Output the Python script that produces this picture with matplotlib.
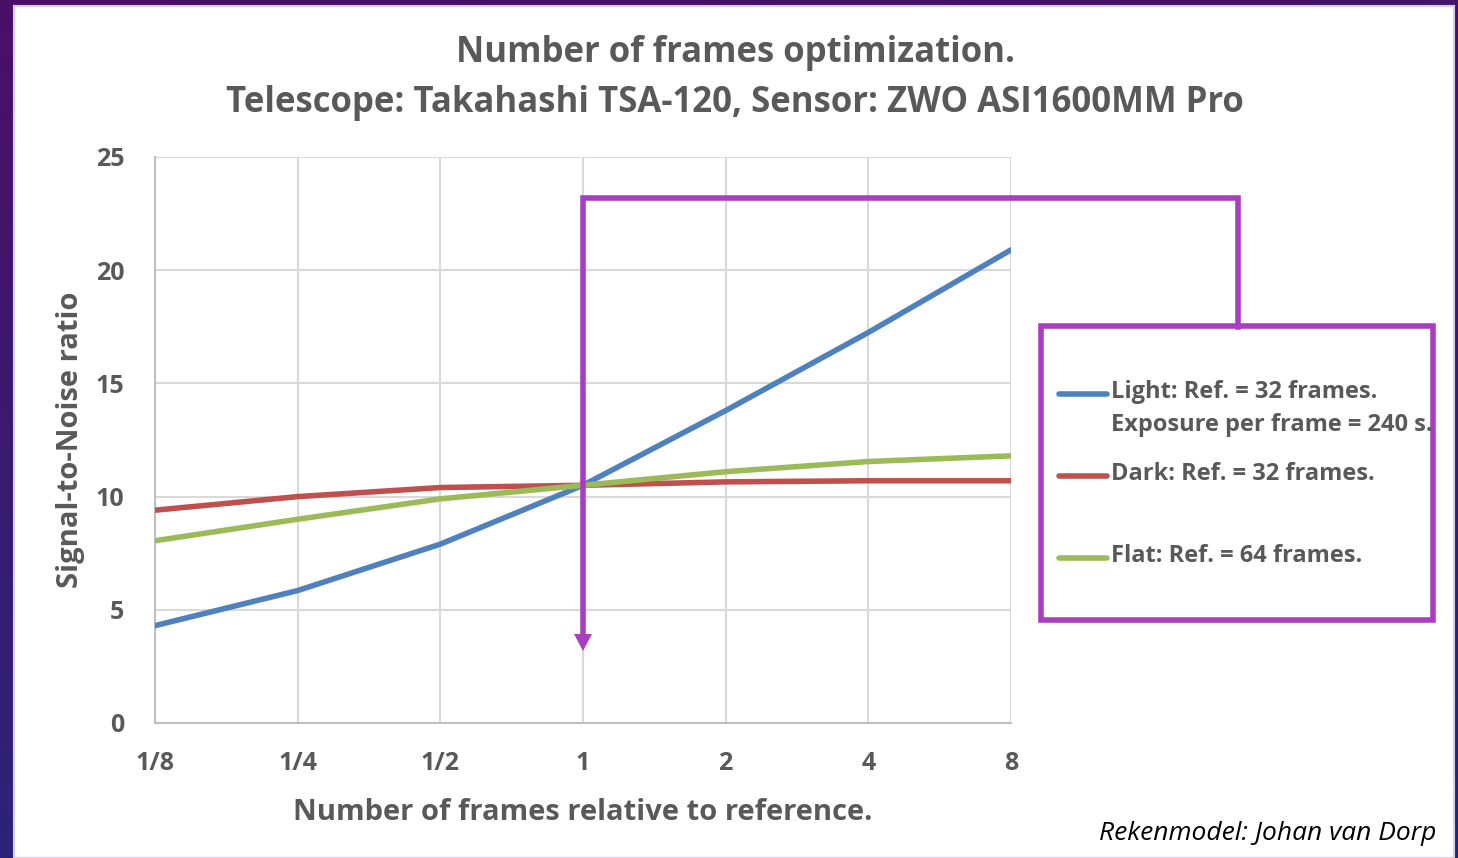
import numpy as np
import matplotlib.pyplot as plt
from matplotlib.patches import Rectangle
from matplotlib.lines import Line2D

plt.rcParams['font.family'] = ['Open Sans', 'DejaVu Sans']

# 数据
x_labels = ["1/8", "1/4", "1/2", "1", "2", "4", "8"]
light = [4.3, 5.85, 7.9, 10.5, 13.8, 17.25, 20.9]
dark = [9.4, 10.0, 10.4, 10.5, 10.65, 10.7, 10.7]
flat = [8.05, 9.0, 9.9, 10.5, 11.1, 11.55, 11.8]
ref_index = 3

c_light = "#4F81BD"
c_dark = "#C0504D"
c_flat = "#9BBB59"
c_purple = "#A93DC0"
c_text = "#595959"

W, H = 1458, 858
fig = plt.figure(figsize=(W / 100, H / 100), dpi=100)

# 背景渐变（紫到蓝）
bg = fig.add_axes([0, 0, 1, 1], zorder=-10)
yy = np.linspace(0, 1, 200)[:, None]
xx = np.linspace(0, 1, 200)[None, :]
top = np.array([0.29, 0.06, 0.40])
bot = np.array([0.14, 0.16, 0.48])
t = (yy * 0.8 + xx * 0.2)
img = top[None, None, :] * (1 - t[..., None]) + bot[None, None, :] * t[..., None]
bg.imshow(img, aspect="auto", extent=[0, 1, 0, 1], origin="upper")
bg.add_patch(Rectangle((14 / W, 0), (1454 - 14) / W, 1 - 6 / H,
                       facecolor="white", edgecolor="#D9D0E6", linewidth=1.5))
bg.set_xlim(0, 1)
bg.set_ylim(0, 1)
bg.axis("off")

ax = fig.add_axes([155 / W, 1 - 723 / H, (1011 - 155) / W, (723 - 157) / H])
ax.set_facecolor("none")
x = np.arange(len(x_labels))

ax.plot(x, light, color=c_light, linewidth=4, solid_capstyle="round", zorder=3)
ax.plot(x, dark, color=c_dark, linewidth=4, solid_capstyle="round", zorder=3)
ax.plot(x, flat, color=c_flat, linewidth=4, solid_capstyle="round", zorder=3)

ax.set_xlim(0, len(x_labels) - 1)
ax.set_ylim(0, 25)
ax.set_xticks(x)
ax.set_xticklabels(x_labels)
ax.set_yticks([0, 5, 10, 15, 20, 25])
ax.grid(True, color="#D9D9D9", linewidth=1.5)
ax.set_axisbelow(True)
for s in ["top", "right"]:
    ax.spines[s].set_visible(False)
ax.spines["left"].set_color("#BFBFBF")
ax.spines["bottom"].set_color("#BFBFBF")
ax.spines["left"].set_linewidth(1.5)
ax.spines["bottom"].set_linewidth(1.5)
ax.tick_params(axis="both", length=0, labelsize=18, labelcolor=c_text)
ax.tick_params(axis="x", pad=20)
ax.tick_params(axis="y", pad=22)
for lab in ax.get_xticklabels() + ax.get_yticklabels():
    lab.set_fontweight("bold")

ax.set_xlabel("Number of frames relative to reference.", fontsize=21,
              fontweight="bold", color=c_text, labelpad=16)
ax.set_ylabel("Signal-to-Noise ratio", fontsize=21, fontweight="bold",
              color=c_text, labelpad=8)

fig.text(735 / W, 1 - 53 / H, "Number of frames optimization.", ha="center",
         va="center", fontsize=25, fontweight="bold", color=c_text)
fig.text(735 / W, 1 - 103 / H, "Telescope: Takahashi TSA-120, Sensor: ZWO ASI1600MM Pro",
         ha="center", va="center", fontsize=25, fontweight="bold", color=c_text)

# 紫色指示线和箭头
px = lambda p: p / W
py = lambda p: 1 - p / H
x_ref = 155 + ref_index * (1011 - 155) / (len(x_labels) - 1)
fig.add_artist(Line2D([px(x_ref), px(x_ref), px(1238), px(1238)],
                      [py(636), py(198), py(198), py(327)],
                      color=c_purple, linewidth=4, solid_joinstyle="miter"))
fig.add_artist(plt.Polygon([[px(x_ref - 9), py(634)], [px(x_ref + 9), py(634)],
                            [px(x_ref), py(651)]], closed=True,
                           facecolor=c_purple, edgecolor="none"))

# 图例框
fig.add_artist(Rectangle((px(1041), py(620)), (1433 - 1041) / W, (620 - 326) / H,
                         facecolor="white", edgecolor=c_purple, linewidth=4))
legend_rows = [
    (c_light, 394, "Light: Ref. = 32 frames.\nExposure per frame = 240 s."),
    (c_dark, 476, "Dark: Ref. = 32 frames."),
    (c_flat, 558, "Flat: Ref. = 64 frames."),
]
for col, yrow, txt in legend_rows:
    fig.add_artist(Line2D([px(1059), px(1107)], [py(yrow), py(yrow)],
                          color=col, linewidth=4, solid_capstyle="round"))
    fig.text(px(1111), py(yrow - 14), txt, ha="left", va="top", fontsize=17,
             fontweight="bold", color=c_text, linespacing=1.5)

fig.text(px(1436), py(833), "Rekenmodel: Johan van Dorp", ha="right", va="center",
         fontsize=19, style="italic", color="black")

plt.savefig("out.png", dpi=100)
